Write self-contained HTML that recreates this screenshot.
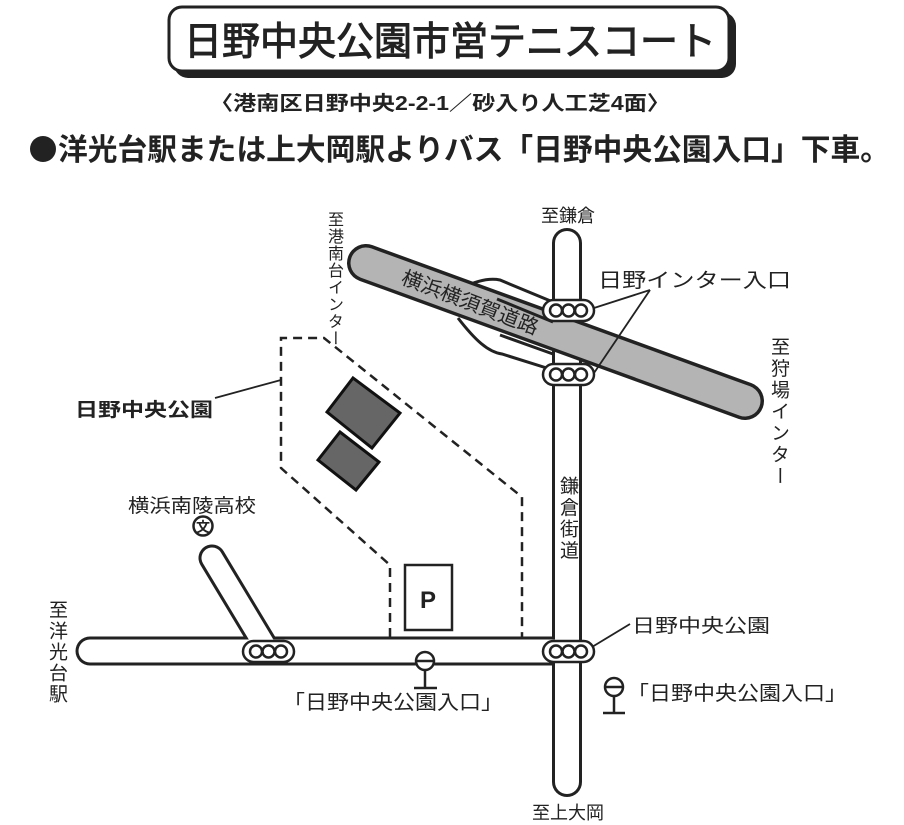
<!DOCTYPE html>
<html><head><meta charset="utf-8"><style>
html,body{margin:0;padding:0;background:#fff;}
body{width:904px;height:825px;position:relative;overflow:hidden;font-family:"Liberation Sans","Noto Sans CJK JP",sans-serif;color:#222;}
.v{position:absolute;writing-mode:vertical-rl;text-orientation:upright;white-space:nowrap;line-height:1;}
svg{position:absolute;left:0;top:0;}
</style></head><body>
<svg width="904" height="825" viewBox="0 0 904 825" font-family="Liberation Sans, Noto Sans CJK JP, sans-serif">
<!-- title box -->
<rect x="174" y="12" width="562" height="66" rx="14" fill="#222"/>
<rect x="169" y="7" width="560" height="64" rx="13" fill="#fff" stroke="#222" stroke-width="3"/>
<text x="450" y="55" font-size="39" text-anchor="middle" fill="#222" stroke="#222" stroke-width="1" textLength="532" lengthAdjust="spacingAndGlyphs">日野中央公園市営テニスコート</text>
<text x="440" y="110" font-size="20" font-weight="bold" text-anchor="middle" fill="#222" textLength="460" lengthAdjust="spacingAndGlyphs">〈港南区日野中央2-2-1／砂入り人工芝4面〉</text>
<circle cx="43" cy="149" r="13" fill="#222"/>
<text x="58" y="160" font-size="30" font-weight="bold" fill="#222" textLength="832" lengthAdjust="spacingAndGlyphs">洋光台駅または上大岡駅よりバス「日野中央公園入口」下車。</text>

<!-- park dashed outline -->
<polyline points="390,637 390,565 281,468 281,338 324,338 522,497 522,637" fill="none" stroke="#222" stroke-width="2.5" stroke-dasharray="9,6"/>
<!-- courts -->
<polygon points="327,412 353,378 400,413 372,448" fill="#666" stroke="#111" stroke-width="3"/>
<polygon points="318,460 340,432 379,462 356,490" fill="#666" stroke="#111" stroke-width="3"/>
<!-- P -->
<rect x="405" y="565" width="47" height="65" fill="#fff" stroke="#222" stroke-width="2.5"/>
<text x="428" y="608" font-size="24" font-weight="bold" text-anchor="middle" fill="#222">P</text>

<!-- roads black -->
<g stroke="#222" stroke-linecap="round" fill="none">
<line x1="90" y1="651" x2="567" y2="651" stroke-width="29"/>
<line x1="567" y1="243" x2="567" y2="782" stroke-width="30"/>
<line x1="212" y1="558" x2="268" y2="651" stroke-width="27"/>
</g>
<g stroke="#fff" stroke-linecap="round" fill="none">
<line x1="90" y1="651" x2="567" y2="651" stroke-width="23"/>
<line x1="567" y1="243" x2="567" y2="782" stroke-width="24"/>
<line x1="212" y1="558" x2="268" y2="651" stroke-width="21"/>
</g>
<!-- ramps -->
<path d="M462,288 C478,280 490,278 500,280 L553,302" fill="none" stroke="#222" stroke-width="3"/>
<path d="M458,318 C475,340 488,352 502,354 L553,370" fill="none" stroke="#222" stroke-width="3"/>
<!-- highway -->
<line x1="366" y1="263" x2="745" y2="401" stroke="#222" stroke-width="38" stroke-linecap="round"/>
<line x1="366" y1="263" x2="745" y2="401" stroke="#b4b4b4" stroke-width="31" stroke-linecap="round"/>
<line x1="497" y1="299" x2="553" y2="322" stroke="#222" stroke-width="3"/>
<line x1="500" y1="335" x2="553" y2="354" stroke="#222" stroke-width="3"/>
<text x="0" y="0" font-size="20" fill="#222" transform="translate(400,283) rotate(21)" textLength="145" lengthAdjust="spacingAndGlyphs">横浜横須賀道路</text>

<!-- signals -->
<g fill="#fff" stroke="#222" stroke-width="2.5">
<rect x="543" y="300" width="51" height="21" rx="10.5"/>
<rect x="543" y="364" width="51" height="21" rx="10.5"/>
<rect x="543" y="641" width="51" height="21" rx="10.5"/>
<rect x="243" y="641" width="51" height="21" rx="10.5"/>
</g>
<g fill="none" stroke="#222" stroke-width="2.5">
<circle cx="556" cy="310.5" r="6"/><circle cx="568.5" cy="310.5" r="6"/><circle cx="581" cy="310.5" r="6"/>
<circle cx="556" cy="374.5" r="6"/><circle cx="568.5" cy="374.5" r="6"/><circle cx="581" cy="374.5" r="6"/>
<circle cx="556" cy="651.5" r="6"/><circle cx="568.5" cy="651.5" r="6"/><circle cx="581" cy="651.5" r="6"/>
<circle cx="256" cy="651.5" r="6"/><circle cx="268.5" cy="651.5" r="6"/><circle cx="281" cy="651.5" r="6"/>
</g>

<!-- leaders -->
<g stroke="#222" stroke-width="1.8" fill="none">
<line x1="650" y1="290" x2="594" y2="308"/>
<line x1="650" y1="290" x2="594" y2="373"/>
<line x1="215" y1="398" x2="281" y2="380"/>
<line x1="592" y1="647" x2="630" y2="624"/>
</g>

<!-- school -->
<circle cx="203" cy="526" r="9.5" fill="#fff" stroke="#222" stroke-width="2.5"/>
<text x="203" y="532" font-size="14" font-weight="bold" text-anchor="middle" fill="#222">文</text>

<!-- bus stops -->
<g stroke="#222" stroke-width="2.5" fill="#fff">
<circle cx="425" cy="661" r="9"/><line x1="416" y1="661" x2="434" y2="661"/>
<line x1="425" y1="670" x2="425" y2="688"/><line x1="414" y1="688" x2="437" y2="688"/>
<circle cx="614" cy="687" r="9"/><line x1="605" y1="687" x2="623" y2="687"/>
<line x1="614" y1="696" x2="614" y2="713"/><line x1="603" y1="713" x2="625" y2="713"/>
</g>

<!-- labels -->
<g fill="#222">
<text x="568" y="222" font-size="18" text-anchor="middle">至鎌倉</text>
<text x="598" y="287" font-size="20" textLength="193" lengthAdjust="spacingAndGlyphs">日野インター入口</text>
<text x="75" y="416" font-size="19" font-weight="bold" textLength="138" lengthAdjust="spacingAndGlyphs">日野中央公園</text>
<text x="128" y="512" font-size="19" textLength="128" lengthAdjust="spacingAndGlyphs">横浜南陵高校</text>
<text x="283" y="709" font-size="20" textLength="220" lengthAdjust="spacingAndGlyphs">「日野中央公園入口」</text>
<text x="632" y="632" font-size="19" textLength="138" lengthAdjust="spacingAndGlyphs">日野中央公園</text>
<text x="627" y="700" font-size="20" textLength="220" lengthAdjust="spacingAndGlyphs">「日野中央公園入口」</text>
<text x="568" y="819" font-size="18" text-anchor="middle">至上大岡</text>
</g>
</svg>
<div class="v" style="left:325px;top:211px;font-size:16px;letter-spacing:1px;">至港南台インター</div>
<div class="v" style="left:769px;top:337px;font-size:19px;letter-spacing:2.5px;">至狩場インター</div>
<div class="v" style="left:558px;top:476px;font-size:19px;letter-spacing:2.5px;">鎌倉街道</div>
<div class="v" style="left:47px;top:600px;font-size:19px;letter-spacing:2px;">至洋光台駅</div>
</body></html>
